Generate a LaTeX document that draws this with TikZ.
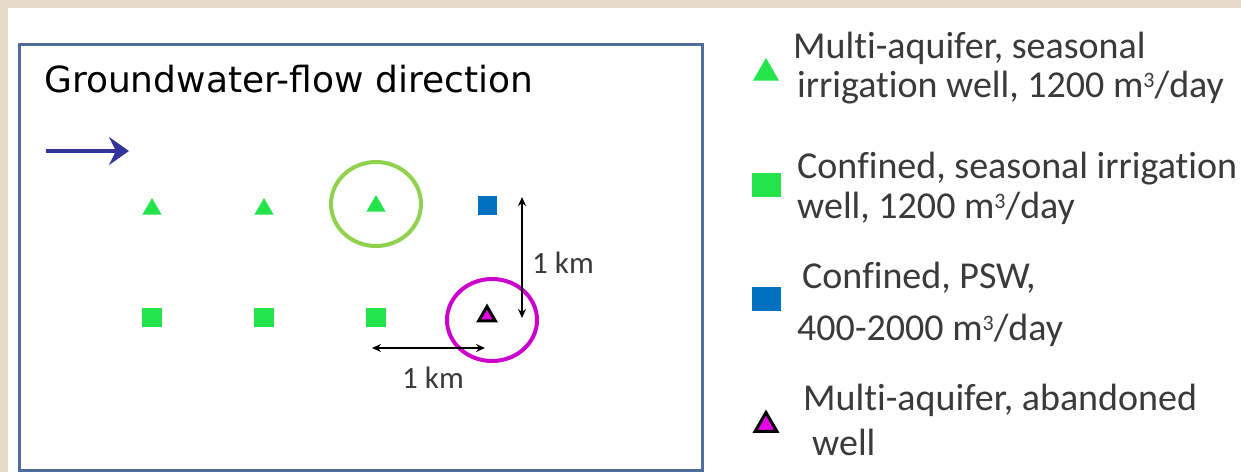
\documentclass[tikz,border=0pt]{standalone}
\usepackage{fontspec}
\setmainfont{Carlito}[Ligatures=NoCommon]
\newfontfamily\titlefont{DejaVu Sans}
\usetikzlibrary{arrows.meta,shapes.geometric}
\definecolor{parchment}{HTML}{E6DBC8}
\definecolor{frameblue}{HTML}{4F6E9C}
\definecolor{flowblue}{HTML}{33339A}
\definecolor{wellgreen}{HTML}{24E44C}
\definecolor{pswblue}{HTML}{0070C0}
\definecolor{ringgreen}{HTML}{92D050}
\definecolor{ringmagenta}{HTML}{CC00CC}
\definecolor{wellmagenta}{HTML}{E600E6}
\definecolor{legendgray}{HTML}{3A3A3A}
% cubic metre: small raised 3
\newcommand{\cubic}{m\raisebox{10pt}{\fontsize{22}{22}\selectfont 3}}
\tikzset{
  tri/.style={regular polygon, regular polygon sides=3, fill=wellgreen, inner sep=0pt, minimum size=22pt},
  sq/.style={rectangle, fill=wellgreen, inner sep=0pt, minimum width=20pt, minimum height=19pt},
  psw/.style={rectangle, fill=pswblue, inner sep=0pt, minimum width=19pt, minimum height=19pt},
  abandoned/.style={regular polygon, regular polygon sides=3, fill=wellmagenta, draw=black, line width=3pt, inner sep=0pt, minimum size=19pt},
  ring/.style={ellipse, line width=4pt, inner sep=0pt},
  dim/.style={line width=1.6pt, {Stealth[length=9pt,width=8pt]}-{Stealth[length=9pt,width=8pt]}},
  lbl/.style={font=\fontsize{31}{36}\selectfont, text=legendgray, inner sep=0pt},
  legtext/.style={font=\fontsize{38}{42}\selectfont, text=legendgray, inner sep=0pt, anchor=base west},
}
\begin{document}
\begin{tikzpicture}[x=1pt,y=-1pt]
  % page: parchment edge with a white sheet on it
  \fill[parchment] (0,0) rectangle (1241,472);
  \fill[white] (8,8) rectangle (1241,472);
  \useasboundingbox (0,0) rectangle (1241,472);

  % map frame
  \draw[frameblue, line width=3pt] (19,44) rectangle (702,470);
  \node[anchor=base west, inner sep=0pt, font=\titlefont\fontsize{36}{42}\selectfont] (title) at (44,92) {Groundwater-flow direction};

  % flow arrow
  \coordinate (flowstart) at (46,151);
  \coordinate (flowend) at (129,151);
  \draw[flowblue, line width=4.5pt, -{Stealth[length=20pt,width=28pt,inset=7pt]}] (flowstart) -- (flowend);

  % wells, upper row
  \node[tri] (t1) at (152,209) {};
  \node[tri] (t2) at (264,209) {};
  \node[tri] (t3) at (376,206) {};
  \node[psw] (p1) at (487,205) {};
  % wells, lower row
  \node[sq] (s1) at (152,317) {};
  \node[sq] (s2) at (264,317) {};
  \node[sq] (s3) at (376,317) {};
  \node[abandoned] (a1) at (487,316) {};

  % highlight rings
  \node[ring, draw=ringgreen, minimum width=90pt, minimum height=84pt] (ringA) at (376,204) {};
  \node[ring, draw=ringmagenta, minimum width=90pt, minimum height=82pt] (ringB) at (492,320) {};

  % spacing bars
  \coordinate (vtop) at (522,197);
  \coordinate (vbot) at (522,318);
  \draw[dim] (vtop) -- (vbot);
  \node[lbl] (vlabel) at (563,263) {1 km};
  \coordinate (hleft) at (372,348);
  \coordinate (hright) at (485,348);
  \draw[dim] (hleft) -- (hright);
  \node[lbl] (hlabel) at (433,378) {1 km};

  % legend symbols
  \node[tri, minimum size=30pt] (k1) at (766,73) {};
  \node[sq, minimum width=29pt, minimum height=24pt] (k2) at (766,185) {};
  \node[psw, minimum width=29pt, minimum height=24pt] (k3) at (766,299) {};
  \node[abandoned, minimum size=25pt] (k4) at (766,425) {};

  % legend texts
  \node[legtext] (l1a) at (793,58) {Multi-aquifer, seasonal};
  \node[legtext] (l1b) at (797,97) {irrigation well, 1200 \cubic/day};
  \node[legtext] (l2a) at (797,178) {Confined, seasonal irrigation};
  \node[legtext] (l2b) at (797,218) {well, 1200 \cubic/day};
  \node[legtext] (l3a) at (802,288) {Confined, PSW,};
  \node[legtext] (l3b) at (797,340) {400-2000 \cubic/day};
  \node[legtext] (l4a) at (803,410) {Multi-aquifer, abandoned};
  \node[legtext] (l4b) at (812,455) {well};
\end{tikzpicture}
\end{document}
